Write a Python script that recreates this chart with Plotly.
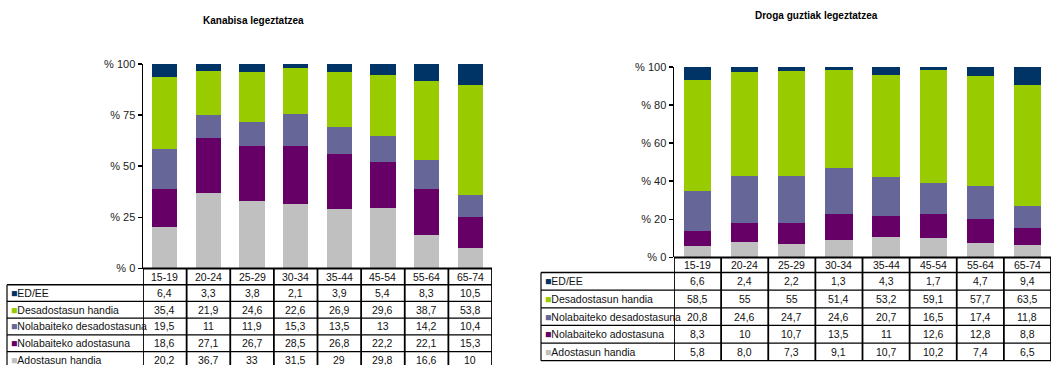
import plotly.graph_objects as go

W, H = 1051, 374
# the photographed page is squeezed vertically; positions below are given in
# final-picture pixels and converted to figure pixels
K, OFF = 0.9605, 6.5

categories = ['15-19', '20-24', '25-29', '30-34', '35-44', '45-54', '55-64', '65-74']
series_names = ['ED/EE', 'Desadostasun handia', 'Nolabaiteko desadostasuna',
                'Nolabaiteko adostasuna', 'Adostasun handia']
series_colors = ['#003366', '#99CC00', '#666699', '#660066', '#C0C0C0']

# Kanabisa legeztatzea
kan_ed = [6.4, 3.3, 3.8, 2.1, 3.9, 5.4, 8.3, 10.5]
kan_desad_handia = [35.4, 21.9, 24.6, 22.6, 26.9, 29.6, 38.7, 53.8]
kan_nol_desad = [19.5, 11, 11.9, 15.3, 13.5, 13, 14.2, 10.4]
kan_nol_adost = [18.6, 27.1, 26.7, 28.5, 26.8, 22.2, 22.1, 15.3]
kan_adost_handia = [20.2, 36.7, 33, 31.5, 29, 29.8, 16.6, 10]

# Droga guztiak legeztatzea
dro_ed = [6.6, 2.4, 2.2, 1.3, 4.3, 1.7, 4.7, 9.4]
dro_desad_handia = [58.5, 55, 55, 51.4, 53.2, 59.1, 57.7, 63.5]
dro_nol_desad = [20.8, 24.6, 24.7, 24.6, 20.7, 16.5, 17.4, 11.8]
dro_nol_adost = [8.3, 10, 10.7, 13.5, 11, 12.6, 12.8, 8.8]
dro_adost_handia = [5.8, 8.0, 7.3, 9.1, 10.7, 10.2, 7.4, 6.5]

left_ticks = [0, 25, 50, 75, 100]
right_ticks = [0, 20, 40, 60, 80, 100]

panels = [
    dict(title='Kanabisa legeztatzea', data=[kan_ed, kan_desad_handia, kan_nol_desad, kan_nol_adost, kan_adost_handia],
         ticks=left_ticks, xa='x', ya='y',
         plot_l=143, plot_r=492, plot_t=64, plot_b=267, table_l=7, head_b=283, row_h=16.6,
         title_x=253, title_y=21, key_x=10),
    dict(title='Droga guztiak legeztatzea', data=[dro_ed, dro_desad_handia, dro_nol_desad, dro_nol_adost, dro_adost_handia],
         ticks=right_ticks, xa='x2', ya='y2',
         plot_l=674, plot_r=1051, plot_t=67, plot_b=256, table_l=541, head_b=271, row_h=17.5,
         title_x=816, title_y=16, key_x=544),
]

FONT = 'Liberation Sans, Arial, sans-serif'
fig = go.Figure()
annotations = []
shapes = []

def px(x):
    return x / W

def py(t):
    yd = (t - OFF) / K
    return (H - yd) / H

def fmt(v):
    return str(v).replace('.', ',')

for pi, p in enumerate(panels):
    for k in reversed(range(len(series_names))):
        fig.add_trace(go.Bar(
            x=categories, y=p['data'][k], name=series_names[k],
            marker=dict(color=series_colors[k], line=dict(width=0)),
            xaxis=p['xa'], yaxis=p['ya'], showlegend=False, hoverinfo='skip'))

    ax_suffix = '' if pi == 0 else '2'
    fig.update_layout(**{
        'xaxis' + ax_suffix: dict(domain=[px(p['plot_l']), min(1.0, px(p['plot_r']))],
                                  type='category', range=[-0.5, len(categories) - 0.5],
                                  showticklabels=False, showline=False, showgrid=False,
                                  zeroline=False, ticks='', anchor=p['ya'], fixedrange=True),
        'yaxis' + ax_suffix: dict(domain=[py(p['plot_b']), py(p['plot_t'])], range=[0, 100],
                                  tickvals=p['ticks'], ticktext=['% ' + str(t) for t in p['ticks']],
                                  showline=True, linecolor='black', linewidth=1.5,
                                  ticks='outside', ticklen=4, tickwidth=1.5, tickcolor='black',
                                  showgrid=False, zeroline=False, fixedrange=True,
                                  tickfont=dict(family=FONT, size=11, color='#222'),
                                  anchor=p['xa']),
    })
    annotations.append(dict(text='<b>' + p['title'] + '</b>', x=px(p['title_x']), y=py(p['title_y']),
                            xref='paper', yref='paper', showarrow=False, xanchor='center', yanchor='middle',
                            font=dict(family=FONT, size=10, color='black')))

    head_t = p['plot_b']
    head_b = p['head_b']
    rh = p['row_h']
    nrows = len(series_names)
    row_edges = [head_b + i * rh for i in range(nrows + 1)]
    tsize = 10.5
    for c in categories:
        annotations.append(dict(text=c, x=c, y=py((head_t + head_b) / 2), xref=p['xa'], yref='paper',
                                showarrow=False, xanchor='center', yanchor='middle',
                                font=dict(family=FONT, size=tsize, color='#111')))
    for r in range(nrows):
        yc = py((row_edges[r] + row_edges[r + 1]) / 2)
        annotations.append(dict(text="<span style='color:%s'>■</span>%s" % (series_colors[r], series_names[r]),
                                x=px(p['key_x']), y=yc, xref='paper', yref='paper', showarrow=False,
                                xanchor='left', yanchor='middle', borderpad=0,
                                font=dict(family=FONT, size=tsize, color='#111')))
        for ci, c in enumerate(categories):
            annotations.append(dict(text=fmt(p['data'][r][ci]), x=c, y=yc, xref=p['xa'], yref='paper',
                                    showarrow=False, xanchor='center', yanchor='middle', borderpad=0,
                                    font=dict(family=FONT, size=tsize, color='#111')))
    shapes.append(dict(type='line', xref='paper', yref='paper', x0=px(p['plot_l']), x1=px(p['plot_r']),
                       y0=py(head_t), y1=py(head_t), line=dict(color='black', width=2)))
    for i, ye in enumerate(row_edges):
        shapes.append(dict(type='line', xref='paper', yref='paper', x0=px(p['table_l']), x1=px(p['plot_r']),
                           y0=py(ye), y1=py(ye), line=dict(color='black', width=1.5 if i == 0 else 1.2)))
    for i in range(len(categories) + 1):
        shapes.append(dict(type='line', xref=p['xa'], yref='paper', x0=i - 0.5, x1=i - 0.5,
                           y0=py(head_t), y1=py(row_edges[-1]), line=dict(color='black', width=1.8)))
    shapes.append(dict(type='line', xref='paper', yref='paper', x0=px(p['table_l']), x1=px(p['table_l']),
                       y0=py(head_b), y1=py(row_edges[-1]), line=dict(color='black', width=1.2)))

fig.update_layout(
    width=W, height=H, margin=dict(l=0, r=0, t=0, b=0),
    barmode='stack', bargap=0.42, plot_bgcolor='white', paper_bgcolor='white',
    showlegend=False, annotations=annotations, shapes=shapes,
    font=dict(family=FONT, size=11, color='#222'),
)

fig.write_html('out.html', config={'displayModeBar': False, 'staticPlot': True},
               post_script="document.body.style.margin='0';document.body.style.overflow='hidden';"
                           "document.documentElement.style.overflow='hidden';")
